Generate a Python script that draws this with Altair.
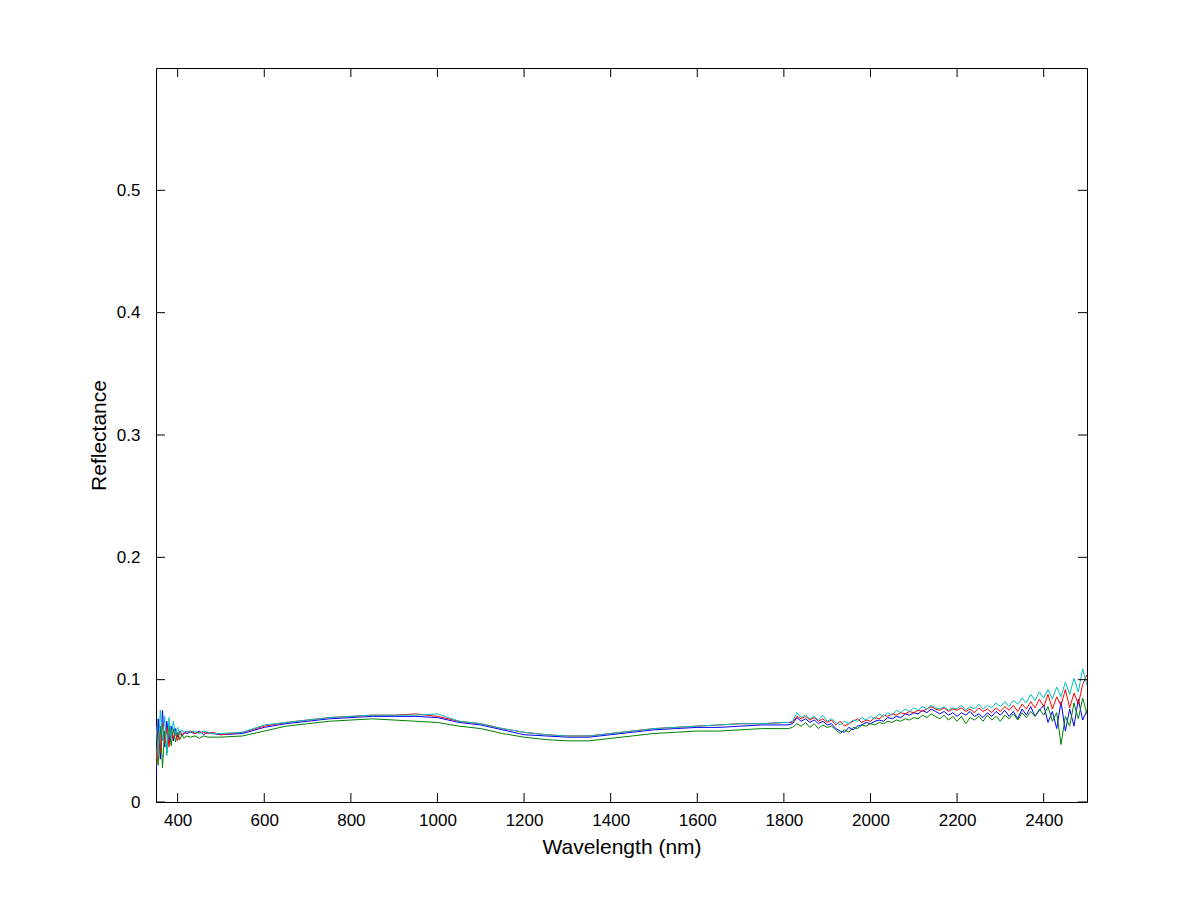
import altair as alt
import pandas as pd

# wavelength sampling grid (nm)
wl = (list(range(350, 421, 5)) + list(range(430, 481, 10))
      + list(range(500, 1801, 50)) + list(range(1810, 2501, 10)))

blue = [0.020, 0.068, 0.035, 0.075, 0.045, 0.066, 0.048, 0.062, 0.050, 0.060, 0.053, 0.058, 0.054, 0.057, 0.056,
        0.057, 0.056, 0.058, 0.055, 0.057, 0.056,
        0.055, 0.056, 0.061, 0.064, 0.066, 0.068, 0.069, 0.070, 0.070, 0.070, 0.069, 0.065, 0.063, 0.059, 0.055,
        0.054, 0.053, 0.053, 0.055, 0.057, 0.059, 0.060, 0.061, 0.061, 0.062, 0.063, 0.063,
        0.063, 0.064, 0.069, 0.066, 0.068, 0.065, 0.067, 0.064, 0.066, 0.063, 0.064, 0.060, 0.058, 0.057, 0.061,
        0.059, 0.062, 0.063, 0.065, 0.064, 0.066, 0.067, 0.066, 0.069, 0.068, 0.070, 0.069, 0.072, 0.071, 0.073,
        0.072, 0.075, 0.073, 0.076, 0.074, 0.072, 0.074, 0.071, 0.073, 0.070, 0.073, 0.071, 0.074, 0.070, 0.072,
        0.069, 0.073, 0.070, 0.074, 0.071, 0.075, 0.070, 0.074, 0.068, 0.076, 0.071, 0.078, 0.070, 0.075, 0.079,
        0.065, 0.074, 0.060, 0.082, 0.058, 0.076, 0.062, 0.084, 0.067, 0.075]

green = [0.045, 0.030, 0.062, 0.028, 0.058, 0.040, 0.063, 0.046, 0.060, 0.049, 0.057, 0.051, 0.055, 0.052, 0.054,
         0.053, 0.054, 0.052, 0.054, 0.053, 0.053,
         0.053, 0.054, 0.058, 0.062, 0.064, 0.066, 0.067, 0.068, 0.067, 0.066, 0.065, 0.062, 0.060, 0.056, 0.053,
         0.051, 0.050, 0.050, 0.052, 0.054, 0.056, 0.057, 0.058, 0.058, 0.059, 0.060, 0.060,
         0.060, 0.061, 0.064, 0.062, 0.065, 0.061, 0.064, 0.060, 0.063, 0.061, 0.062, 0.059, 0.056, 0.059, 0.057,
         0.061, 0.060, 0.063, 0.062, 0.064, 0.063, 0.065, 0.064, 0.066, 0.065, 0.067, 0.066, 0.068, 0.067, 0.069,
         0.068, 0.071, 0.069, 0.072, 0.070, 0.068, 0.071, 0.067, 0.070, 0.066, 0.070, 0.064, 0.069, 0.067, 0.070,
         0.066, 0.071, 0.067, 0.070, 0.066, 0.071, 0.068, 0.072, 0.067, 0.073, 0.069, 0.074, 0.070, 0.076, 0.071,
         0.078, 0.066, 0.073, 0.047, 0.070, 0.062, 0.081, 0.068, 0.085, 0.072]

red = [0.030, 0.058, 0.040, 0.064, 0.048, 0.061, 0.045, 0.059, 0.052, 0.057, 0.050, 0.058, 0.055, 0.056, 0.057,
       0.058, 0.056, 0.057, 0.057, 0.056, 0.057,
       0.055, 0.057, 0.062, 0.065, 0.067, 0.069, 0.070, 0.071, 0.071, 0.072, 0.070, 0.066, 0.064, 0.060, 0.057,
       0.055, 0.054, 0.054, 0.056, 0.058, 0.060, 0.061, 0.062, 0.063, 0.064, 0.064, 0.065,
       0.065, 0.065, 0.070, 0.068, 0.070, 0.067, 0.069, 0.066, 0.068, 0.065, 0.067, 0.063, 0.066, 0.062, 0.064,
       0.066, 0.068, 0.065, 0.067, 0.066, 0.069, 0.068, 0.071, 0.070, 0.072, 0.071, 0.073, 0.072, 0.074, 0.073,
       0.075, 0.074, 0.076, 0.078, 0.076, 0.075, 0.077, 0.074, 0.076, 0.075, 0.077, 0.074, 0.076, 0.073, 0.077,
       0.074, 0.076, 0.073, 0.077, 0.074, 0.078, 0.075, 0.079, 0.074, 0.080, 0.076, 0.082, 0.077, 0.084, 0.078,
       0.088, 0.076, 0.086, 0.079, 0.092, 0.077, 0.089, 0.080, 0.096, 0.104]

cyan = [0.062, 0.040, 0.075, 0.050, 0.070, 0.038, 0.069, 0.052, 0.066, 0.054, 0.061, 0.055, 0.059, 0.057, 0.058,
        0.057, 0.058, 0.056, 0.058, 0.057, 0.056,
        0.056, 0.057, 0.063, 0.065, 0.067, 0.069, 0.070, 0.071, 0.071, 0.071, 0.072, 0.066, 0.064, 0.060, 0.057,
        0.055, 0.054, 0.054, 0.056, 0.058, 0.060, 0.061, 0.062, 0.063, 0.064, 0.064, 0.065,
        0.065, 0.066, 0.073, 0.069, 0.071, 0.068, 0.070, 0.067, 0.071, 0.066, 0.068, 0.065, 0.063, 0.066, 0.064,
        0.067, 0.066, 0.069, 0.067, 0.070, 0.068, 0.072, 0.070, 0.073, 0.071, 0.075, 0.073, 0.076, 0.074, 0.077,
        0.075, 0.078, 0.076, 0.079, 0.077, 0.076, 0.078, 0.075, 0.077, 0.076, 0.079, 0.075, 0.078, 0.076, 0.080,
        0.076, 0.079, 0.077, 0.081, 0.078, 0.082, 0.078, 0.083, 0.080, 0.085, 0.081, 0.088, 0.083, 0.090, 0.085,
        0.092, 0.084, 0.094, 0.086, 0.098, 0.088, 0.101, 0.090, 0.109, 0.095]

series_names = ["s1", "s2", "s3", "s4"]
series_vals = [blue, green, red, cyan]
series_colors = ["#0000ff", "#008000", "#ff0000", "#00bfbf"]

x_ticks = [400, 600, 800, 1000, 1200, 1400, 1600, 1800, 2000, 2200, 2400]
y_ticks = [0, 0.1, 0.2, 0.3, 0.4, 0.5]

rows = []
for name, vals in zip(series_names, series_vals):
    for i, (w, v) in enumerate(zip(wl, vals)):
        rows.append({"w": w, "r": v, "s": name, "o": i})
df = pd.DataFrame(rows)

W, H = 931, 734
FONT = "Liberation Sans"
xs = alt.Scale(domain=[350, 2500], nice=False, zero=False)
ys = alt.Scale(domain=[0, 0.6], nice=False)

lines = alt.Chart(df).mark_line(strokeWidth=1, clip=True).encode(
    x=alt.X("w:Q", scale=xs, title="Wavelength (nm)",
            axis=alt.Axis(values=x_ticks, format="d", ticks=False, domain=False, grid=False,
                          labelPadding=10, labelFontSize=17, labelFont=FONT, labelColor="black",
                          titleFont=FONT, titleFontSize=21, titleFontWeight="normal", titleColor="black",
                          titlePadding=8)),
    y=alt.Y("r:Q", scale=ys, title="Reflectance",
            axis=alt.Axis(values=y_ticks, format="~g", ticks=False, domain=False, grid=False,
                          labelPadding=16, labelFontSize=17, labelFont=FONT, labelColor="black",
                          titleFont=FONT, titleFontSize=21, titleFontWeight="normal", titleColor="black",
                          titlePadding=7)),
    color=alt.Color("s:N", scale=alt.Scale(domain=series_names, range=series_colors), legend=None),
    order="o:Q",
)

xt = pd.DataFrame({"w": x_ticks})
yt = pd.DataFrame({"r": y_ticks})
tick_len = 9
xb = alt.Chart(xt).mark_rule(color="black", strokeWidth=1).encode(
    x=alt.X("w:Q", scale=xs), y=alt.value(H), y2=alt.value(H - tick_len))
xtop = alt.Chart(xt).mark_rule(color="black", strokeWidth=1).encode(
    x=alt.X("w:Q", scale=xs), y=alt.value(0), y2=alt.value(tick_len))
yl = alt.Chart(yt).mark_rule(color="black", strokeWidth=1).encode(
    y=alt.Y("r:Q", scale=ys), x=alt.value(0), x2=alt.value(tick_len))
yr = alt.Chart(yt).mark_rule(color="black", strokeWidth=1).encode(
    y=alt.Y("r:Q", scale=ys), x=alt.value(W), x2=alt.value(W - tick_len))

chart = alt.layer(lines, xb, xtop, yl, yr).properties(
    width=W, height=H,
    autosize=alt.AutoSizeParams(type="none"),
    padding={"left": 148, "top": 60, "right": 100, "bottom": 90},
).configure(background="white").configure_view(stroke="black", strokeWidth=1, strokeOpacity=1)

chart.save("out.html", embed_options={"renderer": "svg", "actions": False})
